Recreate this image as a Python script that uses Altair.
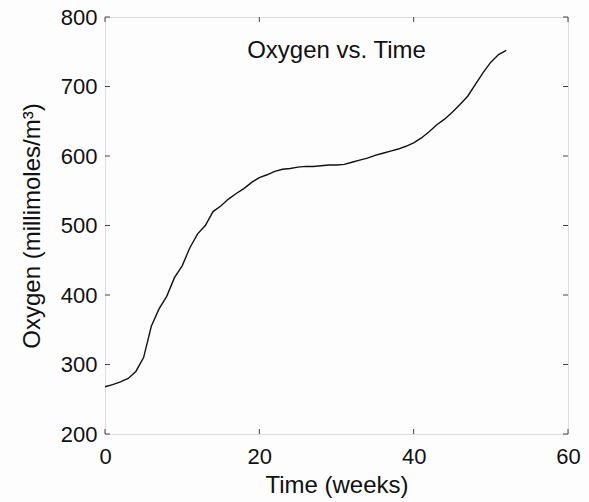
import altair as alt
import pandas as pd

# Dissolved oxygen readings over one year
weeks = list(range(0, 53))
oxygen = [268, 271, 275, 280, 290, 310, 355, 380, 398, 425,
          442, 468, 488, 500, 520, 528, 538, 546, 553, 562,
          569, 573, 578, 581, 582, 584, 585, 585, 586, 587,
          587, 588, 591, 594, 597, 601, 604, 607, 610, 614,
          619, 626, 635, 645, 653, 663, 674, 686, 703, 720,
          735, 746, 752]

x_ticks = [0, 20, 40, 60]
y_ticks = [200, 300, 400, 500, 600, 700, 800]
plot_title = ["Oxygen vs. Time"]

W, H = 463, 417
FONT = "Liberation Sans"
TICK_LEN = 5
LABEL_SIZE = 22
TITLE_SIZE = 24

df = pd.DataFrame({"week": weeks, "oxygen": oxygen})
xt = pd.DataFrame({"t": x_ticks})
yt = pd.DataFrame({"v": y_ticks})
tt = pd.DataFrame({"label": plot_title})

xscale = alt.Scale(domain=[0, 60], nice=False)
yscale = alt.Scale(domain=[200, 800], nice=False)

line = alt.Chart(df).mark_line(color="#111", strokeWidth=1.4).encode(
    x=alt.X("week:Q", scale=xscale,
            axis=alt.Axis(values=x_ticks, title="Time (weeks)", ticks=False,
                          domain=False, grid=False, labelPadding=12,
                          labelFontSize=LABEL_SIZE, labelFont=FONT, labelColor="#111",
                          titleFont=FONT, titleFontSize=TITLE_SIZE, titleFontWeight="normal",
                          titleColor="#111", titlePadding=6, labelFlush=False)),
    y=alt.Y("oxygen:Q", scale=yscale,
            axis=alt.Axis(values=y_ticks, title="Oxygen (millimoles/m³)", ticks=False,
                          domain=False, grid=False, labelPadding=8,
                          labelFontSize=LABEL_SIZE, labelFont=FONT, labelColor="#111",
                          titleFont=FONT, titleFontSize=TITLE_SIZE, titleFontWeight="normal",
                          titleColor="#111", titlePadding=16, labelFlush=False)),
)

# inward tick marks on all four sides
tick_style = dict(color="#444", strokeWidth=1)
left_ticks = alt.Chart(yt).mark_rule(**tick_style).encode(
    y=alt.Y("v:Q", scale=yscale), x=alt.value(0), x2=alt.value(TICK_LEN))
right_ticks = alt.Chart(yt).mark_rule(**tick_style).encode(
    y=alt.Y("v:Q", scale=yscale), x=alt.value(W - TICK_LEN), x2=alt.value(W))
bottom_ticks = alt.Chart(xt).mark_rule(**tick_style).encode(
    x=alt.X("t:Q", scale=xscale), y=alt.value(H - TICK_LEN), y2=alt.value(H))
top_ticks = alt.Chart(xt).mark_rule(**tick_style).encode(
    x=alt.X("t:Q", scale=xscale), y=alt.value(0), y2=alt.value(TICK_LEN))

# title drawn inside the plot frame, centred near the top
title_text = alt.Chart(tt).mark_text(
    font=FONT, fontSize=TITLE_SIZE, color="#111", align="center",
    baseline="alphabetic").encode(
    text="label:N", x=alt.value(W / 2), y=alt.value(41))

chart = alt.layer(left_ticks, right_ticks, bottom_ticks, top_ticks, line,
                  title_text).properties(
    width=W, height=H,
    autosize=alt.AutoSizeParams(type="none"),
    padding={"left": 105, "top": 17, "right": 21, "bottom": 68},
).configure_view(stroke="#444", strokeWidth=1.2).configure(background="#fdfdfd")

chart.save("out.html", embed_options={"renderer": "svg", "actions": False})
